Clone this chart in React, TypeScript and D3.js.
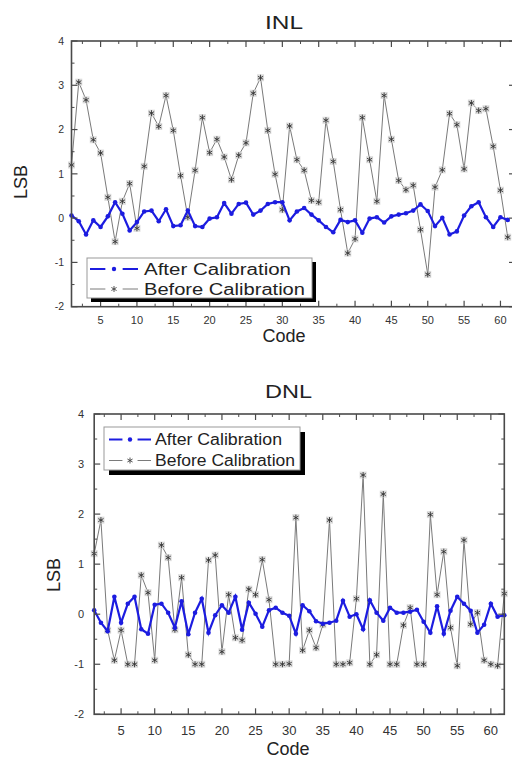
import * as d3 from "d3";

const inlAfter = [0.06, -0.07, -0.37, -0.05, -0.2, 0.04, 0.36, 0.1, -0.28, -0.09,
  0.15, 0.17, -0.07, 0.2, -0.18, -0.16, 0.17, -0.18, -0.2, -0.01,
  0.02, 0.34, 0.1, 0.32, 0.35, 0.08, 0.17, 0.32, 0.36, 0.36,
  -0.05, 0.15, 0.23, 0.08, -0.05, -0.2, -0.32, -0.04, -0.09, -0.05,
  -0.33, -0.01, 0.02, -0.1, 0.04, 0.08, 0.11, 0.17, 0.31, 0.16,
  -0.18, 0.01, -0.37, -0.3, 0.06, 0.27, 0.36, 0.02, -0.2, 0.02, -0.04];
const inlBefore = [1.2, 3.07, 2.67, 1.77, 1.47, 0.47, -0.53, 0.38, 0.78, -0.23,
  1.17, 2.37, 2.07, 2.77, 1.98, 0.96, 0.02, 1.08, 2.27, 1.48,
  1.78, 1.38, 0.87, 1.42, 1.7, 2.82, 3.17, 1.98, 0.99, 0.19,
  2.08, 1.32, 1.08, 0.4, 0.36, 2.21, 1.28, 0.19, -0.79, -0.47,
  2.27, 1.32, 0.38, 2.77, 1.78, 0.85, 0.64, 0.74, -0.26, -1.27,
  0.7, 1.09, 2.36, 2.11, 1.11, 2.6, 2.43, 2.47, 1.62, 0.63, -0.43];
const dnlAfter = [0.08, -0.17, -0.34, 0.35, -0.17, 0.21, 0.35, -0.3, -0.39, 0.19,
  0.21, 0.03, -0.27, 0.26, -0.4, 0.03, 0.31, -0.37, -0.02, 0.18,
  0.03, 0.35, -0.31, 0.23, 0.01, -0.25, 0.08, 0.13, 0.03, -0.03,
  -0.39, 0.18, 0.06, -0.14, -0.19, -0.17, -0.13, 0.27, -0.05, 0.0,
  -0.3, 0.28, 0.03, -0.13, 0.13, 0.03, 0.03, 0.05, 0.09, -0.15,
  -0.37, 0.16, -0.39, 0.07, 0.35, 0.21, 0.07, -0.37, -0.21, 0.21, -0.05, -0.02];
const dnlBefore = [1.21, 1.88, -0.32, -0.92, -0.32, -1.0, -1.0, 0.78, 0.43, -0.92,
  1.38, 1.13, -0.31, 0.73, -0.81, -1.0, -1.0, 1.08, 1.18, -0.75,
  0.39, -0.47, -0.52, 0.5, 0.39, 1.09, 0.29, -1.0, -1.0, -0.99,
  1.93, -0.72, -0.32, -0.67, -0.21, 1.88, -1.0, -1.0, -0.97, 0.31,
  2.78, -1.0, -0.81, 2.4, -1.0, -1.0, -0.22, 0.13, -1.0, -1.0,
  1.99, 0.39, 1.25, -0.27, -1.03, 1.48, -0.2, 0.03, -0.92, -1.0, -1.03, 0.41];

const xTicks = [5, 10, 15, 20, 25, 30, 35, 40, 45, 50, 55, 60];
const yTicks = [-2, -1, 0, 1, 2, 3, 4];
const legendLabels = ["After Calibration", "Before Calibration"];

const BLUE = "#1c1ce0";
const GRAY = "#7a7a7a";
const AXIS = "#4a4a4a";
const FONT = "'Liberation Sans', Arial, sans-serif";

function Star({ x, y }: { x: number; y: number }) {
  const r = 3;
  const a = r * Math.cos(Math.PI / 6), b = r * Math.sin(Math.PI / 6);
  return (
    <g transform={`translate(${x},${y})`}>
      <rect x={-3.5} y={-3.5} width={7} height={7} fill="#d6d6d6" opacity={0.85} />
      <path d={`M0,${-r}V${r}M${-a},${-b}L${a},${b}M${-a},${b}L${a},${-b}`} stroke="#333" strokeWidth={0.9} />
    </g>
  );
}

type PanelProps = {
  title: string; titleX: number; titleY: number; titleW: number;
  after: number[]; before: number[];
  x0: number; x1: number; top: number; bottom: number; rightAxis: number;
  yLabX: number; xLabY: number; tickFont: number; xTickFont: number;
  lsbX: number; lsbY: number; codeX: number; codeY: number;
  lg: { x: number; y: number; w: number; h: number; sx: number; sx2: number; tx: number; r1: number; r2: number; w1: number; w2: number; sh: number };
};

function Panel(p: PanelProps) {
  const x = d3.scaleLinear().domain([1, 62]).range([p.x0, p.x1]);
  const y = d3.scaleLinear().domain([-2, 4]).range([p.bottom, p.top]);
  const left = p.x0, right = p.rightAxis;
  const minorX = xTicks.map((t) => t - 2.5).concat([62.5]).filter((t) => t > 1 && t < 62);
  const minorY = yTicks.slice(0, -1).map((t) => t + 0.5);
  const lineA = d3.line<number>().x((_, i) => x(i + 1)).y((d) => y(d));
  const lg = p.lg;
  const mid = (lg.sx + lg.sx2) / 2;
  const seg = (lg.sx2 - lg.sx) * 0.32;
  return (
    <g fontFamily={FONT}>
      <text x={p.titleX} y={p.titleY} fontSize={18} textAnchor="middle" fill="#222" textLength={p.titleW} lengthAdjust="spacingAndGlyphs">{p.title}</text>
      {/* data */}
      <path d={lineA(p.before) || ""} fill="none" stroke={GRAY} strokeWidth={1} />
      {p.before.map((d, i) => <Star key={"s" + i} x={x(i + 1)} y={y(d)} />)}
      <path d={lineA(p.after) || ""} fill="none" stroke={BLUE} strokeWidth={2.2} />
      {p.after.map((d, i) => <circle key={"c" + i} cx={x(i + 1)} cy={y(d)} r={2.3} fill={BLUE} />)}
      {/* frame */}
      <rect x={left} y={p.top} width={right - left} height={p.bottom - p.top} fill="none" stroke={AXIS} strokeWidth={1.6} />
      {xTicks.map((t) => (
        <g key={"xt" + t}>
          <line x1={x(t)} x2={x(t)} y1={p.bottom} y2={p.bottom - 6} stroke={AXIS} strokeWidth={1.2} />
          <line x1={x(t)} x2={x(t)} y1={p.top} y2={p.top + 6} stroke={AXIS} strokeWidth={1.2} />
          <text x={x(t)} y={p.xLabY} fontSize={p.xTickFont} textAnchor="middle" fill="#333">{t}</text>
        </g>
      ))}
      {minorX.map((t) => (
        <g key={"xm" + t}>
          <line x1={x(t)} x2={x(t)} y1={p.bottom} y2={p.bottom - 3} stroke={AXIS} strokeWidth={1} />
          <line x1={x(t)} x2={x(t)} y1={p.top} y2={p.top + 3} stroke={AXIS} strokeWidth={1} />
        </g>
      ))}
      {yTicks.map((t) => (
        <g key={"yt" + t}>
          <line x1={left} x2={left + 6} y1={y(t)} y2={y(t)} stroke={AXIS} strokeWidth={1.2} />
          <line x1={right} x2={right - 6} y1={y(t)} y2={y(t)} stroke={AXIS} strokeWidth={1.2} />
          <text x={p.yLabX} y={y(t) + p.tickFont * 0.36} fontSize={p.tickFont} textAnchor="end" fill="#333">{t}</text>
        </g>
      ))}
      {minorY.map((t) => (
        <g key={"ym" + t}>
          <line x1={left} x2={left + 3} y1={y(t)} y2={y(t)} stroke={AXIS} strokeWidth={1} />
          <line x1={right} x2={right - 3} y1={y(t)} y2={y(t)} stroke={AXIS} strokeWidth={1} />
        </g>
      ))}
      <text transform={`translate(${p.lsbX},${p.lsbY}) rotate(-90)`} fontSize={18} textAnchor="middle" fill="#222">LSB</text>
      <text x={p.codeX} y={p.codeY} fontSize={18} textAnchor="middle" fill="#222">Code</text>
      {/* legend */}
      <rect x={lg.x + lg.sh} y={lg.y + lg.sh} width={lg.w} height={lg.h} fill="#000" />
      <rect x={lg.x} y={lg.y} width={lg.w} height={lg.h} fill="#fff" stroke="#999" strokeWidth={1} />
      <line x1={lg.sx} x2={lg.sx + seg} y1={lg.r1} y2={lg.r1} stroke={BLUE} strokeWidth={2} />
      <line x1={lg.sx2 - seg} x2={lg.sx2} y1={lg.r1} y2={lg.r1} stroke={BLUE} strokeWidth={2} />
      <circle cx={mid} cy={lg.r1} r={2.2} fill={BLUE} />
      <line x1={lg.sx} x2={lg.sx + seg} y1={lg.r2} y2={lg.r2} stroke={GRAY} strokeWidth={1} />
      <line x1={lg.sx2 - seg} x2={lg.sx2} y1={lg.r2} y2={lg.r2} stroke={GRAY} strokeWidth={1} />
      <path d={`M${mid},${lg.r2 - 3}v6M${mid - 2.6},${lg.r2 - 1.5}l5.2,3M${mid - 2.6},${lg.r2 + 1.5}l5.2,-3`} stroke="#444" strokeWidth={0.9} />
      <text x={lg.tx} y={lg.r1 + 5.8} fontSize={16} fill="#222" textLength={lg.w1} lengthAdjust="spacingAndGlyphs">{legendLabels[0]}</text>
      <text x={lg.tx} y={lg.r2 + 5.8} fontSize={16} fill="#222" textLength={lg.w2} lengthAdjust="spacingAndGlyphs">{legendLabels[1]}</text>
    </g>
  );
}

export default function App() {
  return (
    <svg width={512} height={759} style={{ position: "absolute", left: 0, top: 0, background: "#fff" }}>
      <rect width={512} height={759} fill="#fff" />
      <Panel
        title="INL" titleX={284} titleY={29} titleW={38}
        after={inlAfter} before={inlBefore}
        x0={71.5} x1={515} top={41} bottom={306.7} rightAxis={515}
        yLabX={64} xLabY={324} tickFont={10.5} xTickFont={11}
        lsbX={27} lsbY={182} codeX={284} codeY={342}
        lg={{ x: 87, y: 258, w: 225, h: 40, sh: 4, sx: 90, sx2: 138, tx: 144, r1: 269, r2: 289, w1: 147, w2: 161 }}
      />
      <Panel
        title="DNL" titleX={288.5} titleY={398} titleW={47}
        after={dnlAfter} before={dnlBefore}
        x0={94.2} x1={504.3} top={414} bottom={714.3} rightAxis={504.3}
        yLabX={84} xLabY={735} tickFont={11} xTickFont={13}
        lsbX={60} lsbY={575} codeX={288} codeY={755}
        lg={{ x: 104, y: 427, w: 196, h: 43, sh: 5, sx: 109, sx2: 151, tx: 155, r1: 439.5, r2: 460.5, w1: 127, w2: 140 }}
      />
    </svg>
  );
}
